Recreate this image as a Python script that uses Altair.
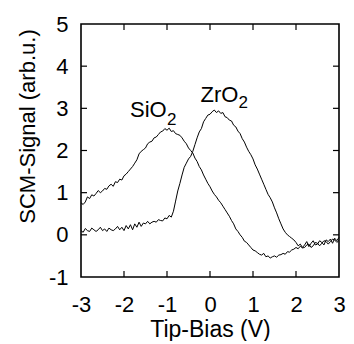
import altair as alt
import pandas as pd

# Tip bias sweep (V)
bias = [-3.00, -2.95, -2.90, -2.85, -2.80, -2.75, -2.70, -2.65, -2.60, -2.55,
        -2.50, -2.45, -2.40, -2.35, -2.30, -2.25, -2.20, -2.15, -2.10, -2.05,
        -2.00, -1.95, -1.90, -1.85, -1.80, -1.75, -1.70, -1.65, -1.60, -1.55,
        -1.50, -1.45, -1.40, -1.35, -1.30, -1.25, -1.20, -1.15, -1.10, -1.05,
        -1.00, -0.95, -0.90, -0.85, -0.80, -0.75, -0.70, -0.65, -0.60, -0.55,
        -0.50, -0.45, -0.40, -0.35, -0.30, -0.25, -0.20, -0.15, -0.10, -0.05,
        0.00, 0.05, 0.10, 0.15, 0.20, 0.25, 0.30, 0.35, 0.40, 0.45,
        0.50, 0.55, 0.60, 0.65, 0.70, 0.75, 0.80, 0.85, 0.90, 0.95,
        1.00, 1.05, 1.10, 1.15, 1.20, 1.25, 1.30, 1.35, 1.40, 1.45,
        1.50, 1.55, 1.60, 1.65, 1.70, 1.75, 1.80, 1.85, 1.90, 1.95,
        2.00, 2.05, 2.10, 2.15, 2.20, 2.25, 2.30, 2.35, 2.40, 2.45,
        2.50, 2.55, 2.60, 2.65, 2.70, 2.75, 2.80, 2.85, 2.90, 2.95,
        3.00]

sio2 = [0.76, 0.72, 0.78, 0.90, 0.86, 0.95, 0.92, 0.98, 1.05, 1.00,
        1.04, 1.10, 1.08, 1.16, 1.20, 1.15, 1.26, 1.24, 1.32, 1.30,
        1.40, 1.44, 1.50, 1.56, 1.62, 1.70, 1.78, 1.92, 1.98, 2.02,
        2.06, 2.16, 2.20, 2.22, 2.30, 2.32, 2.38, 2.44, 2.46, 2.52,
        2.48, 2.53, 2.45, 2.47, 2.40, 2.38, 2.36, 2.30, 2.22, 2.16,
        2.06, 2.00, 1.94, 1.82, 1.74, 1.62, 1.54, 1.42, 1.32, 1.22,
        1.14, 1.04, 0.96, 0.90, 0.82, 0.76, 0.68, 0.60, 0.52, 0.44,
        0.34, 0.26, 0.14, 0.08, 0.00, -0.06, -0.15, -0.18, -0.24, -0.30,
        -0.36, -0.38, -0.42, -0.46, -0.48, -0.44, -0.52, -0.50, -0.55, -0.52,
        -0.50, -0.53, -0.48, -0.47, -0.44, -0.46, -0.40, -0.41, -0.36, -0.34,
        -0.30, -0.33, -0.27, -0.31, -0.30, -0.24, -0.22, -0.30, -0.26, -0.18,
        -0.20, -0.26, -0.20, -0.14, -0.16, -0.22, -0.16, -0.10, -0.12, -0.18,
        -0.13]

zro2 = [0.10, 0.06, 0.15, 0.10, 0.08, 0.16, 0.12, 0.08, 0.12, 0.18,
        0.10, 0.14, 0.08, 0.16, 0.12, 0.10, 0.14, 0.20, 0.12, 0.18,
        0.10, 0.22, 0.14, 0.24, 0.12, 0.26, 0.18, 0.30, 0.20, 0.28,
        0.26, 0.32, 0.26, 0.30, 0.32, 0.30, 0.36, 0.34, 0.33, 0.40,
        0.38, 0.46, 0.42, 0.56, 0.80, 1.04, 1.22, 1.42, 1.60, 1.70,
        1.80, 1.86, 1.98, 2.14, 2.30, 2.44, 2.52, 2.68, 2.76, 2.84,
        2.86, 2.92, 2.96, 2.90, 2.94, 2.88, 2.90, 2.80, 2.78, 2.72,
        2.70, 2.60, 2.56, 2.46, 2.40, 2.28, 2.20, 2.08, 1.98, 1.90,
        1.80, 1.66, 1.56, 1.44, 1.32, 1.20, 1.08, 0.96, 0.88, 0.78,
        0.64, 0.52, 0.38, 0.26, 0.14, 0.06, 0.00, -0.04, -0.08, -0.12,
        -0.18, -0.26, -0.22, -0.30, -0.24, -0.16, -0.28, -0.20, -0.14, -0.24,
        -0.22, -0.14, -0.18, -0.24, -0.12, -0.16, -0.10, -0.20, -0.08, -0.14,
        -0.06]

# Annotation labels (main text + subscript), in data coordinates
label_text = ["SiO", "ZrO"]
label_x = [-1.86, -0.22]
label_y = [2.80, 3.15]
sub_text = ["2", "2"]
sub_x = [-1.00, 0.66]
sub_y = [2.60, 3.01]

x_ticks = [-3, -2, -1, 0, 1, 2, 3]
y_ticks = [-1, 0, 1, 2, 3, 4, 5]
inner_x_ticks = [-2, -1, 0, 1, 2]
inner_y_ticks = [0, 1, 2, 3, 4]

W, H = 258, 253
FONT = "Liberation Sans"

rows = []
for b, s in zip(bias, sio2):
    rows.append({"bias": b, "signal": s, "sample": "SiO2"})
for b, z in zip(bias, zro2):
    rows.append({"bias": b, "signal": z, "sample": "ZrO2"})
curves = pd.DataFrame(rows)

labels = pd.DataFrame({"x": label_x, "y": label_y, "t": label_text})
subs = pd.DataFrame({"x": sub_x, "y": sub_y, "t": sub_text})
xt = pd.DataFrame({"v": inner_x_ticks})
yt = pd.DataFrame({"v": inner_y_ticks})

xscale = alt.Scale(domain=[-3, 3], nice=False, zero=False)
yscale = alt.Scale(domain=[-1, 5], nice=False, zero=False)

xaxis = alt.Axis(values=x_ticks, title="Tip-Bias (V)", grid=False, ticks=False,
                 tickSize=0, domain=False, labelFont=FONT, labelFontSize=22,
                 labelColor="black", labelPadding=34, labelBaseline="alphabetic",
                 labelExpr="'' + datum.value",
                 titleFont=FONT, titleFontSize=23, titleFontWeight="normal",
                 titleColor="black", titleY=59, titleBaseline="alphabetic",
                 labelFlush=False, labelOverlap=False)
yaxis = alt.Axis(values=y_ticks, title="SCM-Signal (arb.u.)", grid=False, ticks=False,
                 tickSize=0, domain=False, labelFont=FONT, labelFontSize=22,
                 labelColor="black", labelPadding=13,
                 labelExpr="'' + datum.value",
                 titleFont=FONT, titleFontSize=22, titleFontWeight="normal",
                 titleColor="black", titleX=-47, titleY=102, titleAngle=270,
                 titleBaseline="alphabetic", titleAlign="center",
                 labelFlush=False, labelOverlap=False)

lines = alt.Chart(curves).mark_line(color="black", strokeWidth=1).encode(
    x=alt.X("bias:Q", scale=xscale, axis=xaxis),
    y=alt.Y("signal:Q", scale=yscale, axis=yaxis),
    detail="sample:N",
    order="bias:Q",
)

main_lbl = alt.Chart(labels).mark_text(font=FONT, fontSize=22, align="left",
                                       baseline="alphabetic", color="black").encode(
    x=alt.X("x:Q", scale=xscale), y=alt.Y("y:Q", scale=yscale), text="t:N")
sub_lbl = alt.Chart(subs).mark_text(font=FONT, fontSize=17, align="left",
                                    baseline="alphabetic", color="black").encode(
    x=alt.X("x:Q", scale=xscale), y=alt.Y("y:Q", scale=yscale), text="t:N")

tick_style = dict(color="black", strokeWidth=1.2)
bottom_ticks = alt.Chart(xt).mark_rule(**tick_style).encode(
    x=alt.X("v:Q", scale=xscale), y=alt.value(H), y2=alt.value(H - 6))
top_ticks = alt.Chart(xt).mark_rule(**tick_style).encode(
    x=alt.X("v:Q", scale=xscale), y=alt.value(0), y2=alt.value(6))
left_ticks = alt.Chart(yt).mark_rule(**tick_style).encode(
    y=alt.Y("v:Q", scale=yscale), x=alt.value(0), x2=alt.value(6))
right_ticks = alt.Chart(yt).mark_rule(**tick_style).encode(
    y=alt.Y("v:Q", scale=yscale), x=alt.value(W), x2=alt.value(W - 6))

chart = alt.layer(lines, main_lbl, sub_lbl, bottom_ticks, top_ticks,
                  left_ticks, right_ticks).properties(
    width=W, height=H,
    autosize=alt.AutoSizeParams(type="none"),
    padding={"left": 73, "top": 16, "right": 7, "bottom": 64},
    background="white",
).configure_view(stroke="black", strokeWidth=1.6)

chart.save("out.html", embed_options={"renderer": "svg", "actions": False})
